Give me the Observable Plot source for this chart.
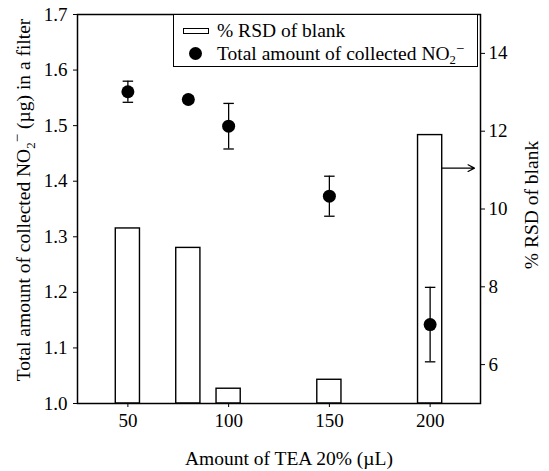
<!DOCTYPE html>
<html>
<head>
<meta charset="utf-8">
<script src="https://cdn.jsdelivr.net/npm/d3@7"></script>
<script src="https://cdn.jsdelivr.net/npm/@observablehq/plot@0.6"></script>
<style>
  html, body { margin: 0; padding: 0; background: #fff; }
  #wrap { position: relative; width: 549px; height: 471px; font-family: "Liberation Serif"; color: #000; }
  #wrap svg, #wrap svg text { font-family: "Liberation Serif" !important; }
  #legend {
    position: absolute; left: 173px; top: 14px; width: 305px; height: 53px;
    box-sizing: border-box; border: 1.4px solid #000; background: #fff;
    font-family: "Liberation Serif"; font-size: 19.5px; line-height: 1;
  }
  #legend .row { position: absolute; left: 0; display: flex; align-items: center; white-space: nowrap; }
  #legend .sw-bar { width: 26px; height: 6px; border: 1.4px solid #000; box-sizing: border-box; margin-left: 9px; margin-right: 8px; }
  #legend .sw-dot { width: 13px; height: 13px; border-radius: 50%; background: #000; margin-left: 15px; margin-right: 15px; }
  #legend sub { font-size: 0.65em; vertical-align: -0.35em; line-height: 0; }
  #legend sup { font-size: 0.75em; vertical-align: 0.45em; line-height: 0; }
</style>
</head>
<body>
<div id="wrap">
  <div id="legend">
    <div class="row" style="top:6px"><span class="sw-bar"></span><span>% RSD of blank</span></div>
    <div class="row" style="top:29px"><span class="sw-dot"></span><span>Total amount of collected NO<sub>2</sub><sup>−</sup></span></div>
  </div>
</div>
<script>
// TEA volumes tested (µL)
const doses = [50, 80, 100, 150, 200];
// % RSD of the blank filters (right axis)
const rsdBlank = [9.5, 9.0, 5.38, 5.61, 11.9];
// Total collected nitrite per filter (µg) and its error bar half-width
const no2Mean = [1.561, 1.547, 1.499, 1.373, 1.142];
const no2Err = [0.019, 0.006, 0.041, 0.036, 0.067];

// Axis ticks
const xTicks = [50, 100, 150, 200];
const yLeftTicks = [1.0, 1.1, 1.2, 1.3, 1.4, 1.5, 1.6, 1.7];
const yRightTicks = [6, 8, 10, 12, 14];

// Arrow pointing the tallest bar to its (right-hand) axis, in data units
const arrowFrom = [{x: 206, rsd: 11.05}];
const arrowTo = [{x: 222, rsd: 11.05}];

// The right axis (RSD 5–15) shares the left scale (1.0–1.7)
const rsdToLeft = r => 1.0 + (r - 5) * 0.07;
const leftToRsd = v => (v - 1.0) / 0.07 + 5;

const barHalf = 6;   // half bar width, in µL
const capHalf = 2.6; // half error-bar cap width, in µL

const rows = doses.map((x, i) => ({x, rsd: rsdBlank[i], mean: no2Mean[i], err: no2Err[i]}));
const arrows = arrowFrom.map((a, i) => ({x1: a.x, x2: arrowTo[i].x, y: rsdToLeft(a.rsd)}));

const serif = "Liberation Serif";

const plot = Plot.plot({
  width: 549,
  height: 471,
  marginLeft: 77,
  marginRight: 69,
  marginTop: 14,
  marginBottom: 68,
  x: {domain: [25, 225]},
  y: {domain: [1.0, 1.7]},
  style: {fontFamily: serif, fontSize: "19px", color: "#000", background: "#fff"},
  marks: [
    Plot.rect(rows, {
      x1: d => d.x - barHalf, x2: d => d.x + barHalf,
      y1: 1.0, y2: d => rsdToLeft(d.rsd),
      fill: "#fff", stroke: "#000", strokeWidth: 1.4
    }),
    Plot.arrow(arrows, {x1: "x1", x2: "x2", y1: "y", y2: "y", stroke: "#000", strokeWidth: 1.2, headLength: 9, headAngle: 55}),
    Plot.ruleX(rows, {x: "x", y1: d => d.mean - d.err, y2: d => d.mean + d.err, stroke: "#000", strokeWidth: 1.3}),
    Plot.link(rows, {x1: d => d.x - capHalf, x2: d => d.x + capHalf, y1: d => d.mean - d.err, y2: d => d.mean - d.err, stroke: "#000", strokeWidth: 1.3}),
    Plot.link(rows, {x1: d => d.x - capHalf, x2: d => d.x + capHalf, y1: d => d.mean + d.err, y2: d => d.mean + d.err, stroke: "#000", strokeWidth: 1.3}),
    Plot.dot(rows, {x: "x", y: "mean", r: 6.5, fill: "#000"}),
    Plot.frame({stroke: "#000", strokeWidth: 1.5}),
    Plot.axisX({ticks: xTicks, tickSize: 4, tickPadding: 6, label: null, fontSize: 19}),
    Plot.axisY({anchor: "left", ticks: yLeftTicks, tickFormat: d3.format(".1f"), tickSize: 4, tickPadding: 6, label: null, fontSize: 19}),
    Plot.axisY({anchor: "right", ticks: yRightTicks.map(rsdToLeft), tickFormat: v => String(Math.round(leftToRsd(v))), tickSize: 4, tickPadding: 4, label: null, fontSize: 19})
  ]
});

const wrap = document.getElementById("wrap");
wrap.insertBefore(plot, wrap.firstChild);

// Axis titles
const svg = d3.select(plot);

svg.append("text")
  .attr("text-anchor", "middle")
  .style("font-family", serif).attr("font-size", 19.5).attr("fill", "#000")
  .attr("x", 289).attr("y", 465)
  .text("Amount of TEA 20% (µL)");

const left = svg.append("text")
  .attr("text-anchor", "middle")
  .style("font-family", serif).attr("font-size", 19.5).attr("fill", "#000")
  .attr("transform", "translate(30,200) rotate(-90)");
left.append("tspan").text("Total amount of collected NO");
left.append("tspan").attr("font-size", 13).attr("dy", 5).text("2");
left.append("tspan").attr("font-size", 15).attr("dy", -13).text("−");
left.append("tspan").attr("dy", 8).text(" (µg) in a filter");

svg.append("text")
  .attr("text-anchor", "middle")
  .style("font-family", serif).attr("font-size", 19.5).attr("fill", "#000")
  .attr("transform", "translate(538,205) rotate(-90)")
  .text("% RSD of blank");
</script>
</body>
</html>
